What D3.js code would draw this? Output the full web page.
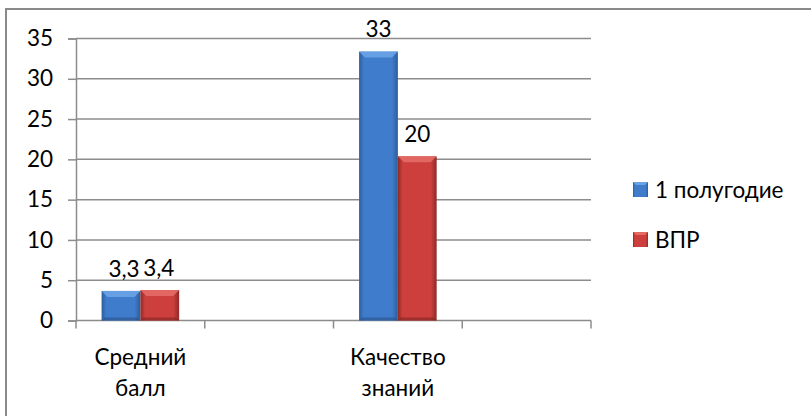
<!DOCTYPE html>
<html><head><meta charset="utf-8">
<script src="https://cdn.jsdelivr.net/npm/d3@7"></script>
<style>body{margin:0;background:#fff}svg{display:block}</style>
</head><body>
<svg id="c" width="811" height="416"></svg>
<script>
const categories = [["Средний","балл"], ["",""], ["Качество","знаний"], ["",""]];
const seriesNames = ["1 полугодие", "ВПР"];
const series1 = [3.3, null, 33, null];
const series2 = [3.4, null, 20, null];
const labels1 = ["3,3", "", "33", ""];
const labels2 = ["3,4", "", "20", ""];
const yTicks = [0, 5, 10, 15, 20, 25, 30, 35];

const svg = d3.select("#c");
const font = "Lato, 'Open Sans', sans-serif";
const fs = 22.5;
const grid = "#8c8c8c";

svg.append("rect").attr("x", 6).attr("y", 9).attr("width", 820).attr("height", 420)
  .attr("fill", "none").attr("stroke", "#8a8a8a").attr("stroke-width", 2);

const defs = svg.append("defs");
function grad(id, edge, mid) {
  const g = defs.append("linearGradient").attr("id", id).attr("x1", 0).attr("x2", 1).attr("y1", 0).attr("y2", 0);
  g.append("stop").attr("offset", "0%").attr("stop-color", edge);
  g.append("stop").attr("offset", "12%").attr("stop-color", mid);
  g.append("stop").attr("offset", "85%").attr("stop-color", mid);
  g.append("stop").attr("offset", "100%").attr("stop-color", edge);
}
grad("gb", "#2d5d9b", "#3f7ccb");
grad("gr", "#8f2a28", "#cc3f3c");

const x0 = d3.scaleBand().domain(d3.range(categories.length)).range([76, 591]).paddingInner(0).paddingOuter(0);
const x1 = d3.scaleBand().domain([0, 1]).range([0, x0.bandwidth()]).paddingInner(0).paddingOuter(0.66);
const y = d3.scaleLinear().domain([0, 35]).range([320.5, 38.5]);

// gridlines
svg.append("g").selectAll("line").data(yTicks.filter(t => t > 0)).join("line")
  .attr("x1", 76).attr("x2", 591).attr("y1", d => y(d)).attr("y2", d => y(d))
  .attr("stroke", grid).attr("stroke-width", 1.5);

// y axis
const ya = svg.append("g").attr("transform", "translate(76,0)")
  .call(d3.axisLeft(y).tickValues(yTicks).tickSize(8).tickPadding(15));
ya.select(".domain").attr("stroke", grid).attr("stroke-width", 1.5);
ya.selectAll(".tick line").attr("stroke", grid).attr("stroke-width", 1.5);
ya.selectAll("text").attr("font-family", font).attr("font-size", fs).attr("fill", "#000");

// x axis
const xa = svg.append("g").attr("transform", `translate(0,${y(0)})`);
xa.append("line").attr("x1", 76).attr("x2", 591).attr("stroke", grid).attr("stroke-width", 1.5);
const edges = d3.range(categories.length + 1).map(i => i < categories.length ? x0(i) : x0(i - 1) + x0.bandwidth());
xa.selectAll("line.t").data(edges).join("line").attr("class", "t")
  .attr("x1", d => d).attr("x2", d => d).attr("y1", 0).attr("y2", 8)
  .attr("stroke", grid).attr("stroke-width", 1.5);
categories.forEach((c, i) => {
  const cx = x0(i) + x0.bandwidth() / 2;
  c.forEach((t, k) => {
    if (!t) return;
    svg.append("text").attr("x", cx).attr("y", 357 + k * 31).attr("dy", "0.35em")
      .attr("text-anchor", "middle").attr("font-family", font).attr("font-size", fs).text(t);
  });
});

// bars
const allSeries = [series1, series2];
const allLabels = [labels1, labels2];
const fills = ["url(#gb)", "url(#gr)"];
const tops = ["#6aa3e6", "#e46a66"];
const bottoms = ["#2a5288", "#7e2523"];
allSeries.forEach((s, si) => {
  s.forEach((v, i) => {
    if (v == null) return;
    const bx = x0(i) + x1(si), bw = x1.bandwidth();
    const by = y(v) - 3, bh = y(0) - by;
    const g = svg.append("g");
    g.append("rect").attr("x", bx).attr("y", by).attr("width", bw).attr("height", bh).attr("fill", fills[si]);
    const b = Math.min(6, bh / 3);
    g.append("path").attr("d", `M${bx},${by}L${bx + bw},${by}L${bx + bw - b},${by + b}L${bx + b},${by + b}Z`)
      .attr("fill", tops[si]).attr("opacity", 0.9);
    g.append("path").attr("d", `M${bx},${by + bh}L${bx + bw},${by + bh}L${bx + bw - 3},${by + bh - 3}L${bx + 3},${by + bh - 3}Z`)
      .attr("fill", bottoms[si]).attr("opacity", 0.6);
    svg.append("text").attr("x", bx + bw / 2 + (v < 10 ? (si === 0 ? 3 : -1) : 0)).attr("y", by - 22)
      .attr("text-anchor", "middle").attr("font-family", font).attr("font-size", fs).attr("dy", "0.35em")
      .text(allLabels[si][i]);
  });
});

// legend
const legY = [190, 240];
seriesNames.forEach((n, i) => {
  const g = svg.append("g");
  g.append("rect").attr("x", 633).attr("y", legY[i] - 8).attr("width", 15).attr("height", 15)
    .attr("fill", fills[i]);
  g.append("path").attr("d", `M633,${legY[i] - 8}L648,${legY[i] - 8}L645,${legY[i] - 5}L636,${legY[i] - 5}Z`).attr("fill", tops[i]);
  g.append("text").attr("x", 655).attr("y", legY[i]).attr("dy", "0.35em")
    .attr("font-family", font).attr("font-size", fs).text(n);
});
</script>
</body></html>
